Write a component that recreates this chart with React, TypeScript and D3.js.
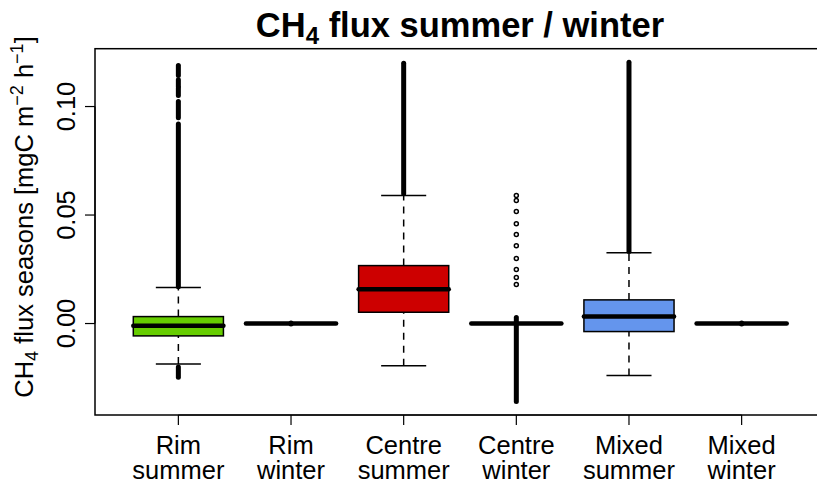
import React, { useEffect, useRef } from 'react';
import * as d3 from 'd3';

// groups (two-line tick labels)
const groupTop = ['Rim', 'Rim', 'Centre', 'Centre', 'Mixed', 'Mixed'];
const groupBottom = ['summer', 'winter', 'summer', 'winter', 'summer', 'winter'];
const boxColors = ['#66CD00', '#66CD00', '#CD0000', '#CD0000', '#6495ED', '#6495ED'];

// five-number summaries
const whiskerLow = [-0.0186, 0, -0.0194, 0, -0.024, 0];
const q1 = [-0.0057, 0, 0.0052, 0, -0.0037, 0];
const medians = [-0.001, 0, 0.0158, 0, 0.0032, 0];
const q3 = [0.0032, 0, 0.0267, 0, 0.0109, 0];
const whiskerHigh = [0.0166, 0, 0.059, 0, 0.0326, 0];

// stretches where outliers are so dense they merge into a column [lo, hi]
const outlierRuns: number[][][] = [
  [[0.017, 0.092], [0.0948, 0.1023], [0.1051, 0.1086], [0.1094, 0.1123], [0.1143, 0.1189], [-0.0247, -0.02]],
  [[-0.0002, 0.0002]],
  [[0.0598, 0.12]],
  [[-0.0359, 0.0028]],
  [[0.0332, 0.1204]],
  [[-0.0002, 0.0002]],
];
// single outliers that stand apart
const outlierPoints: number[][] = [
  [],
  [],
  [],
  [0.059, 0.0567, 0.0516, 0.046, 0.041, 0.0359, 0.03, 0.0249, 0.0212, 0.018],
  [],
  [],
];

const yTicks = [0, 0.05, 0.1];

const W = 817;
const H = 490;
const font = '"Liberation Sans", Arial, Helvetica, sans-serif';
const fs = 25.5;

const BoxChart = () => {
  const ref = useRef<SVGSVGElement>(null);

  useEffect(() => {
    if (!ref.current) return;
    const svg = d3.select(ref.current);
    svg.selectAll('*').remove();

    const plot = { left: 95, right: 825, top: 48.7, bottom: 415 };
    const n = groupTop.length;

    // R-style 4% axis extension
    const xPad = n * 0.04;
    const x = d3.scaleLinear()
      .domain([0.5 - xPad, n + 0.5 + xPad])
      .range([plot.left, plot.right]);

    const allVals = [
      ...whiskerLow, ...whiskerHigh,
      ...outlierRuns.flat(2), ...outlierPoints.flat(),
    ];
    const lo = d3.min(allVals) as number;
    const hi = d3.max(allVals) as number;
    const yPad = (hi - lo) * 0.04;
    const y = d3.scaleLinear()
      .domain([lo - yPad, hi + yPad])
      .range([plot.bottom, plot.top]);

    const boxW = 0.8 * (x(2) - x(1));
    const capW = boxW / 2;

    const g = svg.append('g');

    d3.range(n).forEach(i => {
      const cx = x(i + 1);

      // whiskers
      g.append('line')
        .attr('x1', cx).attr('x2', cx)
        .attr('y1', y(whiskerLow[i])).attr('y2', y(q1[i]))
        .attr('stroke', '#000').attr('stroke-width', 1.5)
        .attr('stroke-dasharray', '7,6');
      g.append('line')
        .attr('x1', cx).attr('x2', cx)
        .attr('y1', y(q3[i])).attr('y2', y(whiskerHigh[i]))
        .attr('stroke', '#000').attr('stroke-width', 1.5)
        .attr('stroke-dasharray', '7,6');

      // caps
      [whiskerLow[i], whiskerHigh[i]].forEach(v => {
        g.append('line')
          .attr('x1', cx - capW / 2).attr('x2', cx + capW / 2)
          .attr('y1', y(v)).attr('y2', y(v))
          .attr('stroke', '#000').attr('stroke-width', 1.5);
      });

      // box
      g.append('rect')
        .attr('x', cx - boxW / 2)
        .attr('y', y(q3[i]))
        .attr('width', boxW)
        .attr('height', Math.max(0, y(q1[i]) - y(q3[i])))
        .attr('fill', boxColors[i])
        .attr('stroke', '#000').attr('stroke-width', 1.5);

      // median
      g.append('line')
        .attr('x1', cx - boxW / 2).attr('x2', cx + boxW / 2)
        .attr('y1', y(medians[i])).attr('y2', y(medians[i]))
        .attr('stroke', '#000').attr('stroke-width', 4.5)
        .attr('stroke-linecap', 'round');

      // outliers
      outlierRuns[i].forEach(([a, b]) => {
        g.append('line')
          .attr('x1', cx).attr('x2', cx)
          .attr('y1', y(a)).attr('y2', y(b))
          .attr('stroke', '#000').attr('stroke-width', 5)
          .attr('stroke-linecap', 'round');
      });
      outlierPoints[i].forEach(v => {
        g.append('circle')
          .attr('cx', cx).attr('cy', y(v)).attr('r', 2)
          .attr('fill', 'none')
          .attr('stroke', '#000').attr('stroke-width', 1.5);
      });
    });

    // frame
    svg.append('rect')
      .attr('x', plot.left).attr('y', plot.top)
      .attr('width', plot.right - plot.left)
      .attr('height', plot.bottom - plot.top)
      .attr('fill', 'none').attr('stroke', '#000').attr('stroke-width', 1.5);

    // y axis
    const yAxis = svg.append('g');
    yAxis.append('line')
      .attr('x1', plot.left).attr('x2', plot.left)
      .attr('y1', y(yTicks[0])).attr('y2', y(yTicks[yTicks.length - 1]))
      .attr('stroke', '#000').attr('stroke-width', 1.2);
    yTicks.forEach(t => {
      yAxis.append('line')
        .attr('x1', plot.left).attr('x2', plot.left - 10)
        .attr('y1', y(t)).attr('y2', y(t))
        .attr('stroke', '#000').attr('stroke-width', 1.2);
      yAxis.append('text')
        .attr('transform', `translate(75,${y(t)}) rotate(-90)`)
        .attr('text-anchor', 'middle')
        .attr('font-family', font)
        .attr('font-size', fs)
        .text(d3.format('.2f')(t));
    });

    // x axis
    const xAxis = svg.append('g');
    xAxis.append('line')
      .attr('x1', x(1)).attr('x2', x(n))
      .attr('y1', plot.bottom).attr('y2', plot.bottom)
      .attr('stroke', '#000').attr('stroke-width', 1.2);
    d3.range(n).forEach(i => {
      const cx = x(i + 1);
      xAxis.append('line')
        .attr('x1', cx).attr('x2', cx)
        .attr('y1', plot.bottom).attr('y2', plot.bottom + 10)
        .attr('stroke', '#000').attr('stroke-width', 1.2);
      const t = xAxis.append('text')
        .attr('text-anchor', 'middle')
        .attr('font-family', font)
        .attr('font-size', fs);
      t.append('tspan').attr('x', cx).attr('y', 454).text(groupTop[i]);
      t.append('tspan').attr('x', cx).attr('y', 479).text(groupBottom[i]);
    });

    // y label
    const yl = svg.append('text')
      .attr('transform', `translate(33,217) rotate(-90)`)
      .attr('text-anchor', 'middle')
      .attr('font-family', font)
      .attr('font-size', fs);
    yl.append('tspan').text('CH');
    yl.append('tspan').attr('font-size', 18).attr('dy', 5).text('4');
    yl.append('tspan').attr('dy', -5).text(' flux seasons [mgC m');
    yl.append('tspan').attr('font-size', 18).attr('dy', -10).text('\u22122');
    yl.append('tspan').attr('dy', 10).text(' h');
    yl.append('tspan').attr('font-size', 18).attr('dy', -10).text('\u22121');
    yl.append('tspan').attr('dy', 10).text(']');

    // title
    const title = svg.append('text')
      .attr('x', (plot.left + plot.right) / 2)
      .attr('y', 37)
      .attr('text-anchor', 'middle')
      .attr('font-family', font)
      .attr('font-weight', 'bold')
      .attr('font-size', 34.5);
    title.append('tspan').text('CH');
    title.append('tspan').attr('font-size', 24).attr('dy', 7).text('4');
    title.append('tspan').attr('dy', -7).text(' flux summer / winter');
  }, []);

  return (
    <svg
      ref={ref}
      width={W}
      height={H}
      style={{ position: 'absolute', left: 0, top: 0, background: '#fff' }}
    />
  );
};

export default function App() {
  return <BoxChart />;
}
